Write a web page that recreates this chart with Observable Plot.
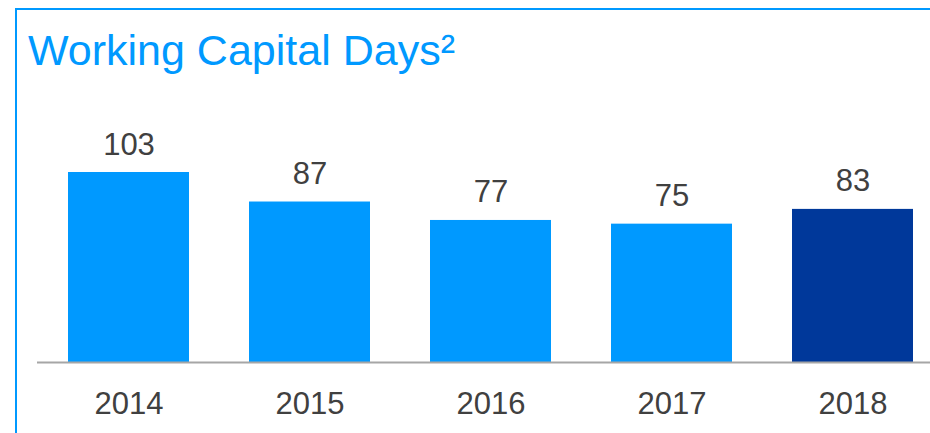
<!DOCTYPE html>
<html><head><meta charset="utf-8">
<script src="https://cdn.jsdelivr.net/npm/d3@7"></script>
<script src="https://cdn.jsdelivr.net/npm/@observablehq/plot@0.6"></script>
<style>
body{margin:0;background:#fff;}
#wrap{position:relative;width:930px;height:433px;overflow:hidden;font-family:"Liberation Sans",Arial,sans-serif;}
#frame{position:absolute;left:15px;top:8px;right:-10px;bottom:-10px;border-left:2px solid #0099ff;border-top:2px solid #0099ff;}
#title{position:absolute;left:28px;top:29px;font-size:43px;line-height:1;color:#0099ff;white-space:nowrap;}
#chart{position:absolute;left:0;top:0;}
</style></head>
<body>
<div id="wrap"><div id="frame"></div><div id="title">Working Capital Days²</div><div id="chart"></div></div>
<script>
const years = ["2014","2015","2016","2017","2018"];
const days = [103, 87, 77, 75, 83];
const barColors = ["#0099ff","#0099ff","#0099ff","#0099ff","#00389a"];
const data = years.map((y,i)=>({year:y, value:days[i], color:barColors[i]}));

const plot = Plot.plot({
  width: 930, height: 433,
  marginLeft: 37, marginRight: 0, marginTop: 0, marginBottom: 71,
  style: {fontFamily: '"Liberation Sans", Arial, sans-serif', background: "transparent", overflow: "visible"},
  x: {domain: years, range: [37, 944], paddingInner: 0.333, paddingOuter: 0.1667, label: null},
  y: {domain: [0, 103], range: [362, 172], axis: null},
  marks: [
    Plot.barY(data, {x: "year", y: "value", fill: "color"}),
    Plot.ruleY([0], {stroke: "#a6a6a6", strokeWidth: 2}),
    Plot.text(data, {x: "year", y: "value", text: d => String(d.value), lineAnchor: "bottom", dy: -18, fontSize: 31, fill: "#404040"}),
    Plot.axisX({tickSize: 0, tickPadding: 29, fontSize: 31, color: "#404040", label: null})
  ]
});
document.getElementById("chart").appendChild(plot);
</script>
</body></html>
